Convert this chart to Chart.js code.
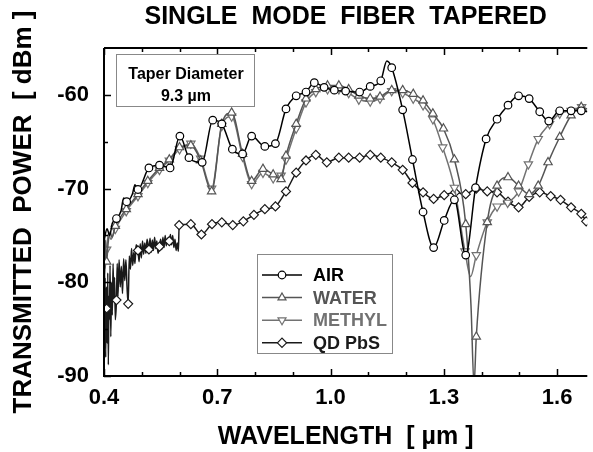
<!DOCTYPE html>
<html>
<head>
<meta charset="utf-8">
<script src="https://cdn.jsdelivr.net/npm/chart.js@4.4.1/dist/chart.umd.min.js"></script>
<style>
  html, body { margin: 0; padding: 0; background: #fff; }
  #wrap { width: 593px; height: 452px; }
</style>
</head>
<body>
<div id="wrap"><canvas id="fiber"></canvas></div>
<script>
// axis ticks
const xTickLabels = [0.4, 0.7, 1.0, 1.3, 1.6];
const xMinorTicks = [0.5, 0.6, 0.8, 0.9, 1.1, 1.2, 1.4, 1.5];
const yTickLabels = [-90, -80, -70, -60];
const yMinorTicks = [-85, -75, -65];

// AIR: marked readings + unmarked trace detail
const airX = [0.433, 0.460, 0.490, 0.519, 0.547, 0.575, 0.601, 0.625, 0.660, 0.688, 0.712, 0.740, 0.767, 0.791,
  0.826, 0.854, 0.882, 0.909, 0.935, 0.957, 0.983, 1.010, 1.040, 1.077, 1.105, 1.133, 1.162, 1.191, 1.217,
  1.245, 1.273, 1.301, 1.328, 1.358, 1.384, 1.412, 1.441, 1.470, 1.498, 1.526, 1.554, 1.578, 1.607, 1.637, 1.664];
const airY = [-73.2, -71.4, -70.1, -67.8, -67.5, -67.8, -64.4, -66.7, -67.2, -62.7, -63.1, -65.8, -66.3, -64.4,
  -65.5, -65.2, -61.5, -60.1, -59.7, -58.7, -59.2, -59.5, -59.6, -59.7, -59.1, -58.5, -57.1, -61.6, -66.9,
  -72.5, -76.3, -73.4, -71.2, -77.1, -69.9, -64.7, -62.6, -61.1, -60.1, -60.4, -61.8, -62.8, -61.7, -61.7, -61.7];
const airTraceX = [0.400, 0.408, 0.415, 0.422, 0.445, 0.452, 0.475, 0.482, 1.149, 1.680];
const airTraceY = [-75.6, -74.3, -75.0, -73.7, -72.4, -71.0, -70.6, -69.6, -56.4, -61.8];

// WATER
const waterX = [0.407, 0.430, 0.459, 0.490, 0.516, 0.547, 0.573, 0.600, 0.630, 0.656, 0.685, 0.712, 0.738, 0.767,
  0.791, 0.821, 0.848, 0.869, 0.882, 0.909, 0.935, 0.961, 0.992, 1.022, 1.048, 1.075, 1.105, 1.131, 1.162,
  1.191, 1.219, 1.245, 1.271, 1.299, 1.328, 1.358, 1.386, 1.415, 1.441, 1.470, 1.498, 1.526, 1.550, 1.576,
  1.607, 1.637, 1.664];
const waterY = [-77.8, -74.0, -72.2, -70.6, -69.2, -67.8, -66.9, -65.6, -65.4, -67.0, -70.3, -63.1, -61.9, -66.3,
  -69.2, -67.9, -68.5, -69.0, -66.5, -63.1, -60.4, -59.4, -59.0, -59.0, -59.4, -60.1, -60.4, -60.2, -59.5,
  -59.5, -59.9, -60.6, -62.0, -63.6, -66.9, -73.8, -85.8, -73.6, -69.7, -68.8, -69.7, -70.6, -69.7, -67.2,
  -64.5, -62.2, -61.3];
const waterTraceX = [0.400, 0.402, 0.404, 0.411, 0.416, 0.421, 1.372, 1.380, 1.680];
const waterTraceY = [-76.0, -79.5, -75.5, -75.8, -74.6, -75.2, -82.5, -91.0, -61.5];

// METHYL
const methylX = [0.407, 0.430, 0.459, 0.490, 0.516, 0.547, 0.573, 0.600, 0.630, 0.656, 0.685, 0.712, 0.738, 0.767,
  0.791, 0.821, 0.848, 0.869, 0.882, 0.909, 0.935, 0.961, 0.992, 1.022, 1.048, 1.075, 1.105, 1.131, 1.162,
  1.191, 1.219, 1.245, 1.271, 1.297, 1.328, 1.356, 1.386, 1.415, 1.441, 1.469, 1.498, 1.524, 1.550, 1.580,
  1.607, 1.637, 1.665];
const methylY = [-76.5, -74.3, -72.4, -70.8, -69.4, -68.0, -67.0, -65.8, -65.2, -66.8, -70.0, -63.3, -62.3, -66.6,
  -69.5, -68.3, -68.9, -68.6, -66.9, -63.6, -60.8, -59.7, -59.4, -59.4, -59.8, -60.5, -60.7, -60.4, -59.6,
  -59.8, -60.4, -61.1, -62.6, -65.6, -69.9, -76.7, -77.1, -73.6, -71.9, -71.5, -70.3, -67.4, -64.7, -63.1,
  -62.0, -61.7, -61.3];
const methylTraceX = [0.400, 0.403, 0.412, 0.418, 1.371, 1.680];
const methylTraceY = [-75.0, -78.5, -74.8, -75.4, -79.4, -61.8];

// QD PbS
const qdX = [0.407, 0.433, 0.464, 0.490, 0.519, 0.547, 0.573, 0.599, 0.630, 0.658, 0.686, 0.712, 0.741, 0.769,
  0.797, 0.826, 0.854, 0.882, 0.909, 0.935, 0.961, 0.990, 1.022, 1.048, 1.077, 1.105, 1.133, 1.162, 1.191,
  1.217, 1.245, 1.273, 1.301, 1.330, 1.358, 1.386, 1.415, 1.441, 1.470, 1.498, 1.526, 1.554, 1.583, 1.609,
  1.637, 1.664, 1.677];
const qdY = [-82.8, -81.9, -82.3, -76.6, -76.5, -76.2, -75.6, -73.9, -73.8, -74.9, -73.8, -73.6, -73.9, -73.5,
  -72.8, -72.2, -71.9, -70.3, -68.3, -67.0, -66.4, -67.2, -66.7, -66.7, -66.7, -66.4, -66.7, -67.2, -68.0,
  -69.4, -70.4, -71.1, -70.7, -70.4, -70.6, -70.0, -70.3, -70.4, -71.4, -72.0, -70.9, -70.4, -70.8, -71.2,
  -72.0, -72.7, -73.5];
const qdTraceX = [0.400, 0.4015, 0.403, 0.4045, 0.406, 0.4085, 0.410, 0.4115, 0.413, 0.4145, 0.416, 0.418, 0.420,
  0.422, 0.424, 0.426, 0.428, 0.430, 0.435, 0.437, 0.440, 0.443, 0.446, 0.449, 0.452, 0.455, 0.458, 0.461,
  0.467, 0.470, 0.473, 0.476, 0.479, 0.482, 0.485, 0.493, 0.496, 0.499, 0.502, 0.505, 0.508, 0.511, 0.514,
  0.522, 0.525, 0.528, 0.531, 0.534, 0.537, 0.540, 0.543, 0.550, 0.553, 0.556, 0.559, 0.562, 0.565, 0.568,
  0.576, 0.579, 0.582, 0.585, 0.588, 0.591, 0.594, 0.597];
const qdTraceY = [-78.0, -85.5, -79.5, -88.0, -80.5, -86.5, -79.0, -88.8, -81.5, -84.0, -78.2, -85.8, -80.0,
  -83.5, -78.0, -82.0, -79.5, -84.0, -78.0, -81.5, -77.6, -80.5, -78.3, -81.2, -77.5, -79.8, -77.6, -80.5,
  -77.2, -78.6, -76.4, -78.2, -76.8, -78.0, -76.0, -77.8, -75.9, -77.4, -75.6, -77.0, -75.8, -76.9, -75.4,
  -75.3, -76.8, -75.5, -76.6, -75.2, -76.4, -75.6, -76.9, -75.4, -76.5, -75.2, -76.3, -75.0, -76.1, -75.3,
  -74.9, -76.0, -75.0, -76.3, -75.4, -76.6, -75.8, -76.7];

const FONT = "'Liberation Sans', Arial, sans-serif";

// marked readings get a symbol, trace points only shape the line
function mergeSeries(xs, ys, tx, ty) {
  const pts = xs.map((x, i) => ({ x, y: ys[i], m: true }));
  tx.forEach((x, i) => pts.push({ x, y: ty[i], m: false }));
  return pts.sort((a, b) => a.x - b.x);
}

function series(label, data, color, pointStyle, radius, rotation) {
  return {
    label,
    data,
    borderColor: color,
    borderWidth: 1.5,
    backgroundColor: '#fff',
    pointStyle,
    pointRotation: rotation || 0,
    pointBorderColor: color,
    pointBackgroundColor: '#fff',
    pointBorderWidth: 1.2,
    pointRadius: (ctx) => (ctx.raw && ctx.raw.m ? radius : 0),
    cubicInterpolationMode: 'monotone',
    textColor: color,
  };
}

const datasets = [
  series('AIR', mergeSeries(airX, airY, airTraceX, airTraceY), '#000', 'circle', 3.8),
  series('WATER', mergeSeries(waterX, waterY, waterTraceX, waterTraceY), '#555', 'triangle', 4.8),
  series('METHYL', mergeSeries(methylX, methylY, methylTraceX, methylTraceY), '#727272', 'triangle', 4.8, 180),
  series('QD PbS', mergeSeries(qdX, qdY, qdTraceX, qdTraceY), '#1a1a1a', 'rectRot', 4.5),
];

// frame with inward ticks, taper note and legend box
const frameAndNotes = {
  id: 'frameAndNotes',
  afterDraw(chart) {
    const { ctx, chartArea: a, scales: { x, y } } = chart;
    ctx.save();
    ctx.strokeStyle = '#000';
    ctx.lineWidth = 2;
    ctx.beginPath();
    ctx.moveTo(a.left, a.top);
    ctx.lineTo(a.right, a.top);
    ctx.moveTo(a.left, a.top);
    ctx.lineTo(a.left, a.bottom);
    ctx.lineTo(a.right, a.bottom);
    ctx.stroke();

    ctx.lineWidth = 1.5;
    ctx.beginPath();
    const xt = (v, len) => {
      const px = Math.round(x.getPixelForValue(v)) + 0.5;
      ctx.moveTo(px, a.bottom); ctx.lineTo(px, a.bottom - len);
      ctx.moveTo(px, a.top); ctx.lineTo(px, a.top + len);
    };
    xTickLabels.forEach(v => xt(v, 7));
    xMinorTicks.forEach(v => xt(v, 4));
    const yt = (v, len) => {
      const py = Math.round(y.getPixelForValue(v)) + 0.5;
      ctx.moveTo(a.left, py); ctx.lineTo(a.left + len, py);
    };
    yTickLabels.forEach(v => yt(v, 7));
    yMinorTicks.forEach(v => yt(v, 4));
    ctx.stroke();

    // taper diameter note
    ctx.fillStyle = '#fff';
    ctx.fillRect(116, 54, 138, 52);
    ctx.strokeStyle = '#888';
    ctx.lineWidth = 1;
    ctx.strokeRect(116.5, 54.5, 138, 52);
    ctx.fillStyle = '#000';
    ctx.font = `bold 16px ${FONT}`;
    ctx.textAlign = 'center';
    ctx.textBaseline = 'middle';
    ctx.fillText('Taper Diameter', 186, 75);
    ctx.fillText('9.3 \u00b5m', 186, 97);

    // legend
    const lx = 257, ly = 254, lw = 135, lh = 99;
    ctx.fillStyle = '#fff';
    ctx.fillRect(lx, ly, lw, lh);
    ctx.strokeStyle = '#888';
    ctx.strokeRect(lx + 0.5, ly + 0.5, lw, lh);
    ctx.font = `bold 18px ${FONT}`;
    ctx.textAlign = 'left';
    chart.data.datasets.forEach((ds, i) => {
      const ry = 275 + i * 22.6;
      ctx.strokeStyle = ds.borderColor;
      ctx.lineWidth = 1.5;
      ctx.beginPath();
      ctx.moveTo(262, ry); ctx.lineTo(302, ry);
      ctx.stroke();
      ctx.fillStyle = '#fff';
      ctx.lineWidth = 1.2;
      const r = ds.pointStyle === 'circle' ? 3.8 : 4.6;
      Chart.helpers.drawPoint(ctx, { pointStyle: ds.pointStyle, rotation: ds.pointRotation, radius: r, borderWidth: 1.2 }, 282, ry);
      ctx.fillStyle = ds.textColor;
      ctx.fillText(ds.label, 313, ry + 1);
    });
    ctx.restore();
  },
};

new Chart(document.getElementById('fiber'), {
  type: 'line',
  data: { datasets },
  options: {
    responsive: true,
    maintainAspectRatio: false,
    animation: false,
    events: [],
    layout: { padding: 0 },
    plugins: {
      legend: { display: false },
      tooltip: { enabled: false },
      title: {
        display: true,
        fullSize: false,
        text: 'SINGLE  MODE  FIBER  TAPERED',
        color: '#000',
        font: { family: FONT, size: 25, weight: 'bold', lineHeight: 1.2 },
        padding: { top: 2, bottom: 16 },
      },
    },
    scales: {
      x: {
        type: 'linear',
        min: 0.4,
        max: 1.68,
        afterBuildTicks: (s) => { s.ticks = xTickLabels.map(v => ({ value: v })); },
        afterFit: (s) => { s.height = 76; },
        grid: { display: false },
        border: { display: false },
        ticks: {
          color: '#000',
          padding: 1,
          maxRotation: 0,
          font: { family: FONT, size: 22, weight: 'bold', lineHeight: 1.2 },
          callback: (v) => Number(v).toFixed(1),
        },
        title: {
          display: true,
          text: 'WAVELENGTH  [ \u00b5m ]',
          color: '#000',
          font: { family: FONT, size: 25, weight: 'bold', lineHeight: 1.2 },
          padding: { top: 0, bottom: 0 },
        },
      },
      y: {
        min: -90,
        max: -55,
        afterBuildTicks: (s) => { s.ticks = yTickLabels.map(v => ({ value: v })); },
        afterFit: (s) => { s.width = 104; },
        grid: { display: false },
        border: { display: false },
        ticks: {
          color: '#000',
          padding: 7,
          font: { family: FONT, size: 22, weight: 'bold', lineHeight: 1.2 },
          callback: (v) => String(v),
        },
        title: {
          display: true,
          text: 'TRANSMITTED  POWER  [ dBm ]',
          color: '#000',
          font: { family: FONT, size: 26, weight: 'bold', lineHeight: 1.2 },
          padding: { top: 8, bottom: 0 },
        },
      },
    },
  },
  plugins: [frameAndNotes],
});
</script>
</body>
</html>
